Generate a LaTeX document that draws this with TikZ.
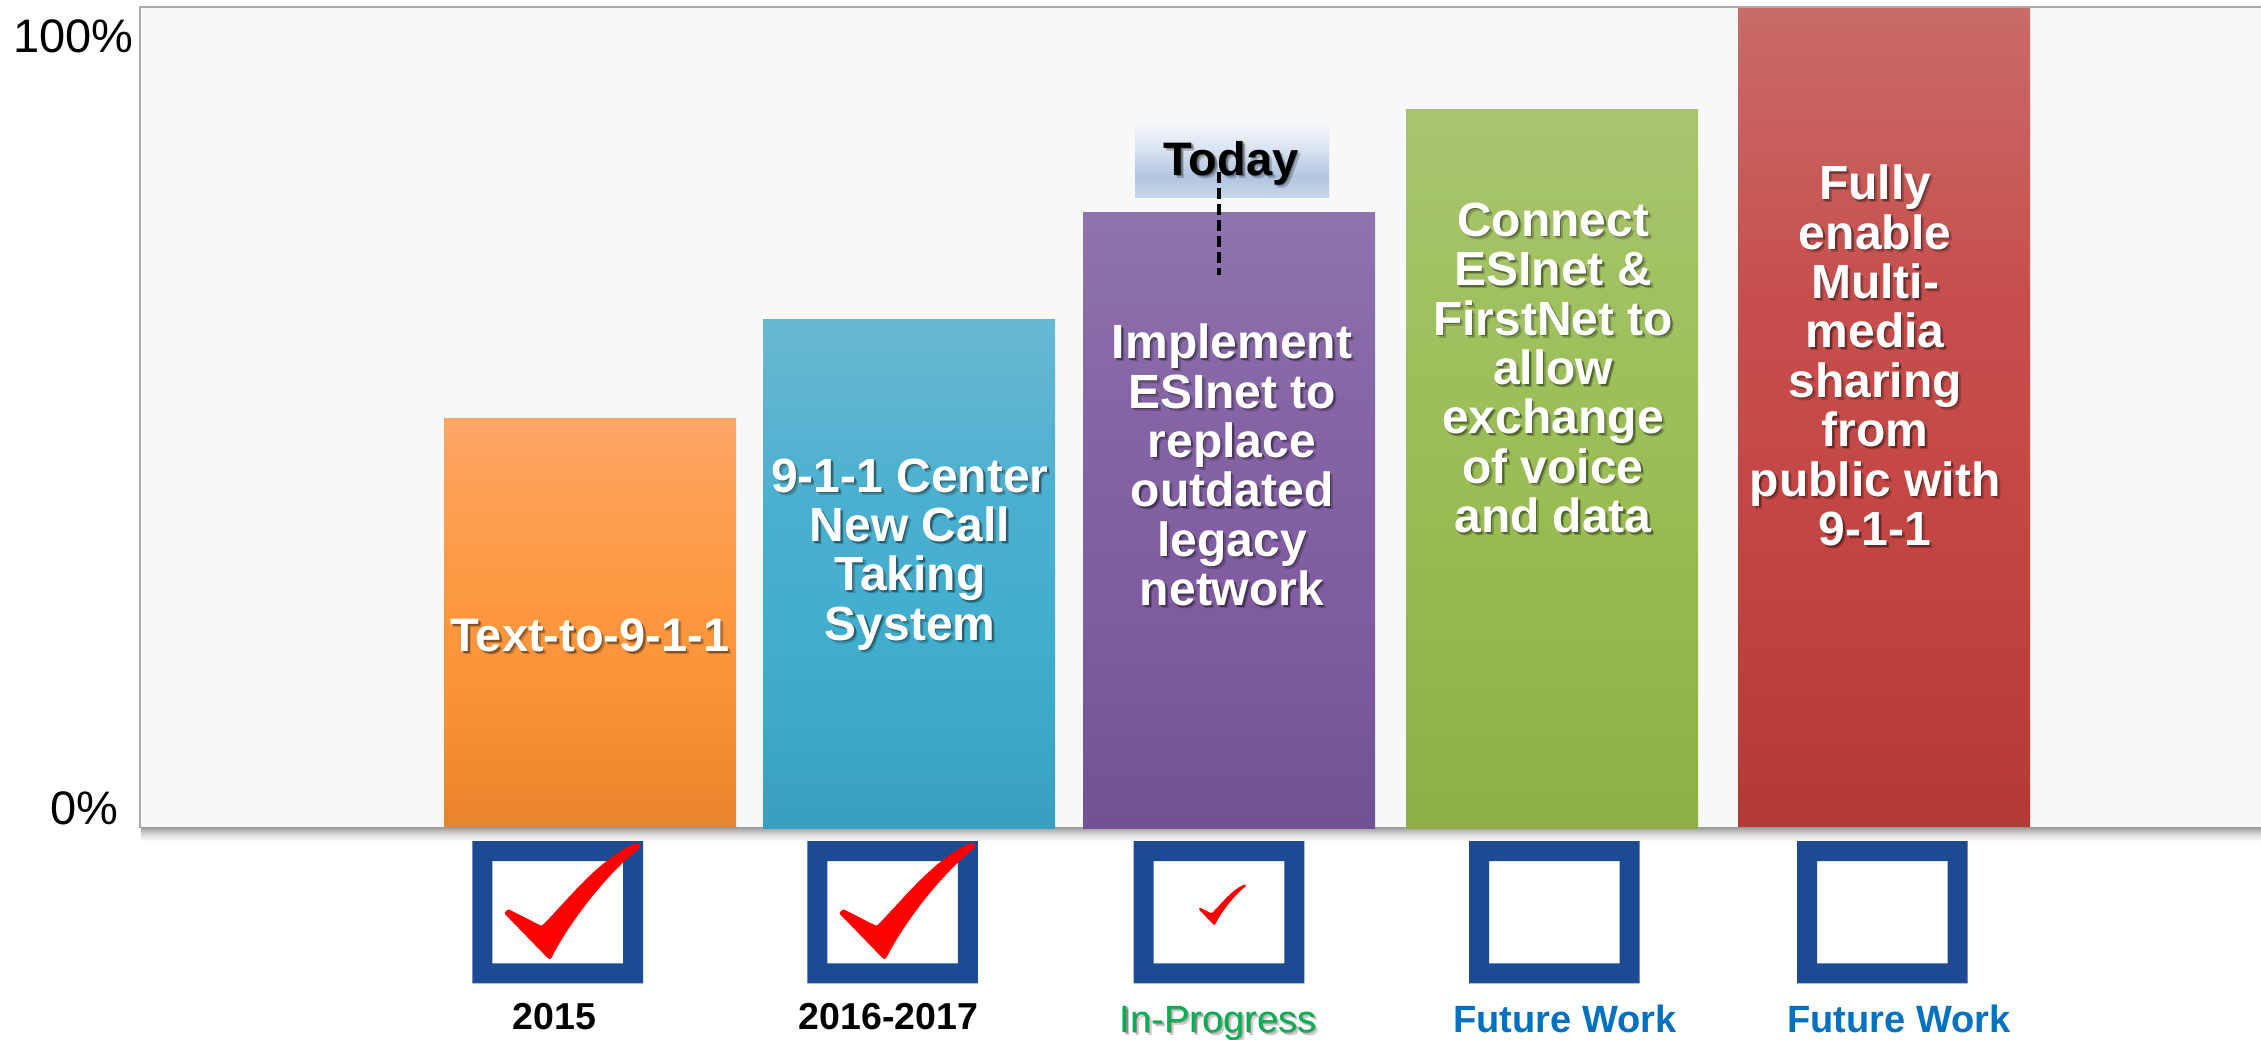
\documentclass[tikz,border=0pt]{standalone}
\usepackage{fontspec}
\setmainfont{Liberation Sans}
\definecolor{plotbg}{HTML}{F8F8F8}
\definecolor{plotline}{HTML}{ABABAB}
\definecolor{boxblue}{HTML}{1C4B94}
\definecolor{progress}{HTML}{00B050}
\definecolor{future}{HTML}{0070C0}
\definecolor{oa}{HTML}{E8842C}\definecolor{ob}{HTML}{FB9338}\definecolor{oc}{HTML}{FD9A45}\definecolor{od}{HTML}{FDA767}
\definecolor{ta}{HTML}{38A0BE}\definecolor{tb}{HTML}{40ADCD}\definecolor{tc}{HTML}{4CB0D0}\definecolor{td}{HTML}{69B8D2}
\definecolor{pa}{HTML}{725292}\definecolor{pb}{HTML}{7F5CA0}\definecolor{pc}{HTML}{8563A5}\definecolor{pd}{HTML}{8F74AC}
\definecolor{ga}{HTML}{8DAF44}\definecolor{gb}{HTML}{97BA50}\definecolor{gc}{HTML}{9EC05C}\definecolor{gd}{HTML}{A9C46F}
\definecolor{ra}{HTML}{B33937}\definecolor{rb}{HTML}{C34543}\definecolor{rc}{HTML}{C64F4D}\definecolor{rd}{HTML}{C96B68}
\definecolor{da}{HTML}{C8D7EA}\definecolor{db}{HTML}{B0C5DF}\definecolor{dc}{HTML}{DCE5F2}\definecolor{dd}{HTML}{F8F9FC}
\definecolor{sa}{HTML}{FFFFFF}\definecolor{sb}{HTML}{DADADA}\definecolor{sc}{HTML}{9A9A9A}
% a TikZ shade maps the path onto the central 25bp--75bp of the 100bp shading
\pgfdeclareverticalshading{orangebar}{100bp}{color(0bp)=(oa); color(25bp)=(oa); color(42.5bp)=(ob); color(57.5bp)=(oc); color(75bp)=(od); color(100bp)=(od)}
\pgfdeclareverticalshading{tealbar}{100bp}{color(0bp)=(ta); color(25bp)=(ta); color(42.5bp)=(tb); color(57.5bp)=(tc); color(75bp)=(td); color(100bp)=(td)}
\pgfdeclareverticalshading{purplebar}{100bp}{color(0bp)=(pa); color(25bp)=(pa); color(42.5bp)=(pb); color(57.5bp)=(pc); color(75bp)=(pd); color(100bp)=(pd)}
\pgfdeclareverticalshading{greenbar}{100bp}{color(0bp)=(ga); color(25bp)=(ga); color(42.5bp)=(gb); color(57.5bp)=(gc); color(75bp)=(gd); color(100bp)=(gd)}
\pgfdeclareverticalshading{redbar}{100bp}{color(0bp)=(ra); color(25bp)=(ra); color(42.5bp)=(rb); color(57.5bp)=(rc); color(75bp)=(rd); color(100bp)=(rd)}
\pgfdeclareverticalshading{todaybar}{100bp}{color(0bp)=(da); color(25bp)=(da); color(38.5bp)=(db); color(57.5bp)=(dc); color(75bp)=(dd); color(100bp)=(dd)}
\pgfdeclareverticalshading{floorshadow}{100bp}{color(0bp)=(sa); color(25bp)=(sa); color(50bp)=(sb); color(75bp)=(sc); color(100bp)=(sc)}
\newcommand{\sh}[1]{\leavevmode
  \rlap{\pgfsetfillopacity{0.2}\raisebox{-3pt}{\kern3pt\textcolor{black}{#1}}\pgfsetfillopacity{1}}%
  \rlap{\pgfsetfillopacity{0.32}\raisebox{-1.5pt}{\kern1.5pt\textcolor{black}{#1}}\pgfsetfillopacity{1}}#1}
\tikzset{
  x=1pt,y=-1pt,
  bartext/.style={text=white,font=\bfseries\fontsize{48}{49.4}\selectfont,align=center,inner sep=0pt},
  axistext/.style={text=black,font=\fontsize{47}{50}\selectfont,inner sep=0pt},
  yeartext/.style={font=\bfseries\fontsize{37.5}{42}\selectfont,inner sep=0pt,anchor=base},
  futuretext/.style={font=\bfseries\fontsize{38}{42}\selectfont,inner sep=0pt,anchor=base,text=future},
  checkbox/.pic={
    \fill[boxblue,even odd rule] (0,0) rectangle (170.6,142.4) (20,20) rectangle (150.6,122.4);
  },
  checkmark/.pic={
    \fill[red,rounded corners=1.2pt] (0,0) -- (2.3,0) .. controls (16,-28) and (52,-80) .. (92.6,-112.3)
      -- (88.8,-116.7) .. controls (50,-100) and (20,-60) .. (-6.9,-33) -- (-40.6,-50) -- (-44.4,-45.7) -- cycle;
  }
}
\begin{document}
\begin{tikzpicture}
\useasboundingbox (0,0) rectangle (2261,1039);
\fill[white] (0,0) rectangle (2261,1039);
% plot
\shade[shading=floorshadow] (141,827) rectangle (2261,841);
\fill[plotbg] (140,7) rectangle (2261,827);
\draw[plotline,line width=2pt] (2261,7) -- (140,7) -- (140,828);
% bars
\shade[shading=orangebar] (444,418) rectangle (736,826);
\shade[shading=tealbar]   (763,319) rectangle (1055,828);
\shade[shading=purplebar] (1083,212) rectangle (1375,828);
\shade[shading=greenbar]  (1406,109) rectangle (1698,828);
\shade[shading=redbar]    (1738,8) rectangle (2030,826);
% today
\shade[shading=todaybar] (1135,120) rectangle (1329,197);
\node[font=\bfseries\fontsize{47}{50}\selectfont,inner sep=0pt,anchor=base] (today) at (1231,175) {\sh{Today}};
\coordinate (dashtop) at (1218.5,172);
\coordinate (dashend) at (1218.5,275);
\draw[black,line width=4pt,dash pattern=on 11pt off 5pt] (dashtop) -- (dashend);
% bar texts
\node[bartext,font=\bfseries\fontsize{47}{49.4}\selectfont] (t1) at (590,637) {\sh{Text-to-9-1-1}};
\node[bartext] (t2) at (910,556) {\sh{9-1-1 Center}\\\sh{New Call}\\\sh{Taking}\\\sh{System}};
\node[bartext] (t3) at (1232,466.5) {\sh{Implement}\\\sh{ESInet to}\\\sh{replace}\\\sh{outdated}\\\sh{legacy}\\\sh{network}};
\node[bartext] (t4) at (1553,369.5) {\sh{Connect}\\\sh{ESInet \&}\\\sh{FirstNet to}\\\sh{allow}\\\sh{exchange}\\\sh{of voice}\\\sh{and data}};
\node[bartext] (t5) at (1875,357) {\sh{Fully}\\\sh{enable}\\\sh{Multi-}\\\sh{media}\\\sh{sharing}\\\sh{from}\\\sh{public with}\\\sh{9-1-1}};
% axis
\node[axistext,anchor=base east] (p100) at (134,52) {100\%};
\node[axistext,anchor=base east] (p0) at (118.5,824) {0\%};
% boxes
\pic at (472.4,841) {checkbox};
\pic at (807.3,841) {checkbox};
\pic at (1133.7,841) {checkbox};
\pic at (1469,841) {checkbox};
\pic at (1797,841) {checkbox};
\pic at (548.6,959) {checkmark};
\pic at (883.5,959) {checkmark};
\pic[scale=0.35] at (1214,925) {checkmark};
% year labels
\node[yeartext] (y1) at (554.5,1029) {2015};
\node[yeartext] (y2) at (888.5,1029) {2016-2017};
\node[yeartext,font=\fontsize{38}{42}\selectfont,text=progress] (y3) at (1218,1032) {\sh{In-Progress}};
\node[futuretext] (y4) at (1565,1032) {Future Work};
\node[futuretext] (y5) at (1899,1032) {Future Work};
\end{tikzpicture}
\end{document}
